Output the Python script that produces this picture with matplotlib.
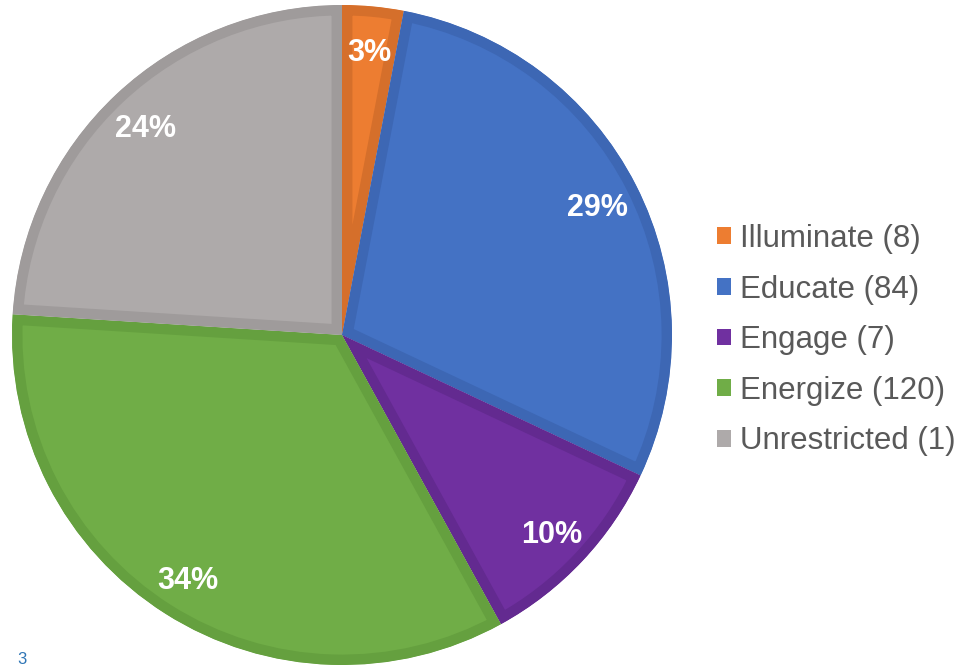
import matplotlib
matplotlib.use("Agg")
import matplotlib.pyplot as plt
from matplotlib.patches import Patch

plt.rcParams['font.family'] = ['Liberation Sans', 'DejaVu Sans']

labels = ['Illuminate (8)', 'Educate (84)', 'Engage (7)', 'Energize (120)', 'Unrestricted (1)']
shares = [3, 29, 10, 34, 24]
fills = ['#ED7D31', '#4472C4', '#7030A0', '#70AD47', '#AEAAAA']
edges = ['#D56F2B', '#3D67B4', '#632A90', '#65A03F', '#9F9B9B']

fig = plt.figure(figsize=(9.59, 6.67), dpi=100)
cx, cy, r = 342, 332, 330
ax = fig.add_axes([(cx - r) / 959, (cy - r) / 667, 2 * r / 959, 2 * r / 667])

wedges, texts, autotexts = ax.pie(
    shares, colors=fills, startangle=90, counterclock=False,
    autopct='%1.0f%%', pctdistance=0.87, radius=1,
    textprops=dict(color='white', fontsize=22, fontweight='bold'))
ax.set_xlim(-1, 1)
ax.set_ylim(-1, 1)
ax.set_aspect('equal')
ax.axis('off')
# darker border drawn only inside each slice (pie turns clipping off)
for w, ec in zip(wedges, edges):
    w.set_edgecolor(ec)
    w.set_linewidth(15)
    w.set_clip_on(True)
    w.set_clip_path(w.get_path(), w.get_transform())
for t in autotexts:
    t.set_va('center_baseline')

handles = [Patch(facecolor=c, edgecolor='none') for c in fills]
fig.legend(handles, labels, loc='center left', bbox_to_anchor=(717 / 959, 0.49),
           frameon=False, fontsize=22.5, labelcolor='#595959',
           handlelength=0.45, handleheight=0.45, handletextpad=0.3,
           labelspacing=0.66, borderpad=0, borderaxespad=0)

fig.text(17 / 959, 1 - 659 / 667, '3', color='#2E75B6', fontsize=12, va='center')

fig.savefig('out.png', dpi=100)
